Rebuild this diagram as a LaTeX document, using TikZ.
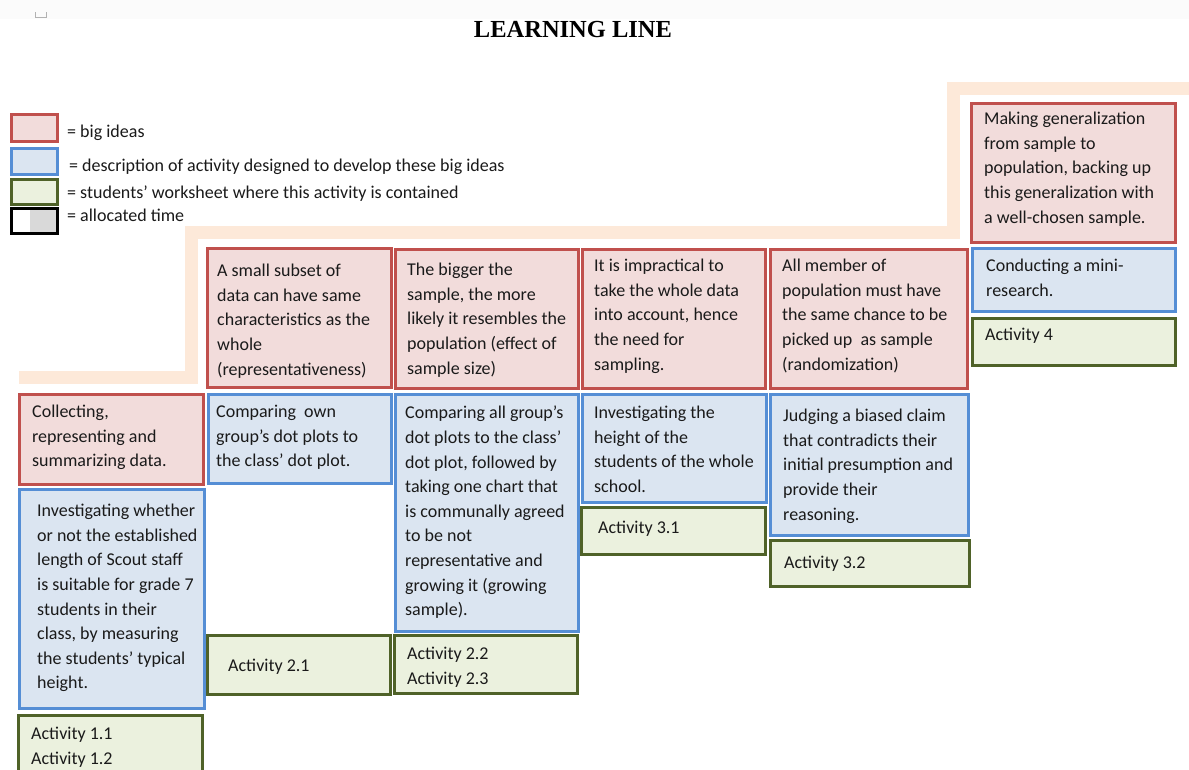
\documentclass[tikz,border=0pt]{standalone}
\usepackage{fontspec}
\setmainfont{Carlito}
\newfontfamily\titlefont{Liberation Serif}
\definecolor{redfill}{HTML}{F2DCDB}
\definecolor{redline}{HTML}{C0504D}
\definecolor{bluefill}{HTML}{DBE5F1}
\definecolor{blueline}{HTML}{558ED5}
\definecolor{greenfill}{HTML}{EBF1DE}
\definecolor{greenline}{HTML}{4F6228}
\definecolor{bandcol}{HTML}{FDE9D9}
\definecolor{textcol}{HTML}{1A1A1A}
\definecolor{timegray}{HTML}{D9D9D9}
\tikzset{
  box/.style={rectangle, inner sep=0pt, line width=2.5pt, anchor=north west},
  bigidea/.style={box, draw=redline, fill=redfill},
  desc/.style={box, draw=blueline, fill=bluefill},
  sheet/.style={box, draw=greenline, fill=greenfill},
  timebox/.style={box, draw=black, line width=2.6pt},
  txt/.style={anchor=north west, inner sep=0pt, align=left, text=textcol,
    font=\fontsize{18}{24.6}\selectfont, execute at begin node=\strut},
  band/.style={draw=bandcol, line width=13pt, line join=miter},
}
\begin{document}
\begin{tikzpicture}[x=1pt,y=-1pt]
\useasboundingbox (0,0) rectangle (1189,769);
\clip (0,0) rectangle (1189,769);
\fill[white] (0,0) rectangle (1189,769);
\fill[gray!3] (0,0) rectangle (1189,19);
\draw[gray!60, line width=1.2pt] (35.5,12) -- (35.5,17.5) -- (46.5,17.5) -- (46.5,12);

% title
\node[anchor=base, inner sep=0pt, font=\titlefont\bfseries\fontsize{24.5}{30}\selectfont] (title) at (573,37) {LEARNING LINE};

% legend
\node[bigidea, minimum width=46pt, minimum height=27pt] (lr) at (10,113) {};
\node[desc, minimum width=46pt, minimum height=26pt] (lb) at (10,147) {};
\node[sheet, minimum width=46pt, minimum height=25pt] (lg) at (10,178) {};
\fill[timegray] (30,207) rectangle (56,232);
\node[timebox, minimum width=46pt, minimum height=25pt] (lt) at (10,207) {};
\node[txt] (lrt) at (67,120) {= big ideas};
\node[txt] (lbt) at (69,154) {= description of activity designed to develop these big ideas};
\node[txt] (lgt) at (67,181) {= students’ worksheet where this activity is contained};
\node[txt] (ltt) at (67,204) {= allocated time};

% staircase band
\coordinate (b0) at (19,377);
\coordinate (b1) at (191,377);
\coordinate (b2) at (191,232);
\coordinate (b3) at (953,232);
\coordinate (b4) at (953,88);
\coordinate (b5) at (1200,88);
\draw[band] (b0) -- (b1) -- (b2) -- (b3) -- (b4) -- (b5);

% column 1
\node[bigidea, minimum width=184pt, minimum height=90pt] (r1) at (18,393) {};
\node[txt] (r1t) at (32,405) {Collecting,\\representing and\\summarizing data.};
\node[desc, minimum width=185pt, minimum height=219pt] (d1) at (18,488) {};
\node[txt] (d1t) at (37,504) {Investigating whether\\or not the established\\length of Scout staff\\is suitable for grade 7\\students in their\\class, by measuring\\the students’ typical\\height.};
\node[sheet, minimum width=184pt, minimum height=80pt] (s1) at (17,714) {};
\node[txt] (s1t) at (31,727) {Activity 1.1\\Activity 1.2};

% column 2
\node[bigidea, minimum width=184pt, minimum height=139pt] (r2) at (206,247) {};
\node[txt] (r2t) at (217,264) {A small subset of\\data can have same\\characteristics as the\\whole\\(representativeness)};
\node[desc, minimum width=183pt, minimum height=89pt] (d2) at (207,393) {};
\node[txt] (d2t) at (216,405) {Comparing\ \ own\\group’s dot plots to\\the class’ dot plot.};
\node[sheet, minimum width=183pt, minimum height=59pt] (s2) at (206,634) {};
\node[txt] (s2t) at (228,654) {Activity 2.1};

% column 3
\node[bigidea, minimum width=183pt, minimum height=139pt] (r3) at (394,248) {};
\node[txt] (r3t) at (407,263) {The bigger the\\sample, the more\\likely it resembles the\\population (effect of\\sample size)};
\node[desc, minimum width=183pt, minimum height=237pt] (d3) at (394,393) {};
\node[txt] (d3t) at (405,406) {Comparing all group’s\\dot plots to the class’\\dot plot, followed by\\taking one chart that\\is communally agreed\\to be not\\representative and\\growing it (growing\\sample).};
\node[sheet, minimum width=183pt, minimum height=58pt] (s3) at (393,634) {};
\node[txt] (s3t) at (407,647) {Activity 2.2\\Activity 2.3};

% column 4
\node[bigidea, minimum width=183pt, minimum height=139pt] (r4) at (581,248) {};
\node[txt] (r4t) at (594,259) {It is impractical to\\take the whole data\\into account, hence\\the need for\\sampling.};
\node[desc, minimum width=184pt, minimum height=108pt] (d4) at (581,393) {};
\node[txt] (d4t) at (594,406) {Investigating the\\height of the\\students of the whole\\school.};
\node[sheet, minimum width=184pt, minimum height=47pt] (s4) at (580,506) {};
\node[txt] (s4t) at (598,516) {Activity 3.1};

% column 5
\node[bigidea, minimum width=197pt, minimum height=139pt] (r5) at (769,248) {};
\node[txt] (r5t) at (782,259) {All member of\\population must have\\the same chance to be\\picked up\ \ as sample\\(randomization)};
\node[desc, minimum width=198pt, minimum height=141pt] (d5) at (769,393) {};
\node[txt] (d5t) at (783,409) {Judging a biased claim\\that contradicts their\\initial presumption and\\provide their\\reasoning.};
\node[sheet, minimum width=199pt, minimum height=46pt] (s5) at (769,539) {};
\node[txt] (s5t) at (784,551) {Activity 3.2};

% column 6
\node[bigidea, minimum width=204pt, minimum height=139pt] (r6) at (970,102) {};
\node[txt] (r6t) at (984,112) {Making generalization\\from sample to\\population, backing up\\this generalization with\\a well-chosen sample.};
\node[desc, minimum width=203pt, minimum height=63pt] (d6) at (971,247) {};
\node[txt] (d6t) at (986,259) {Conducting a mini-\\research.};
\node[sheet, minimum width=203pt, minimum height=47pt] (s6) at (971,317) {};
\node[txt] (s6t) at (985,323) {Activity 4};
\end{tikzpicture}
\end{document}
